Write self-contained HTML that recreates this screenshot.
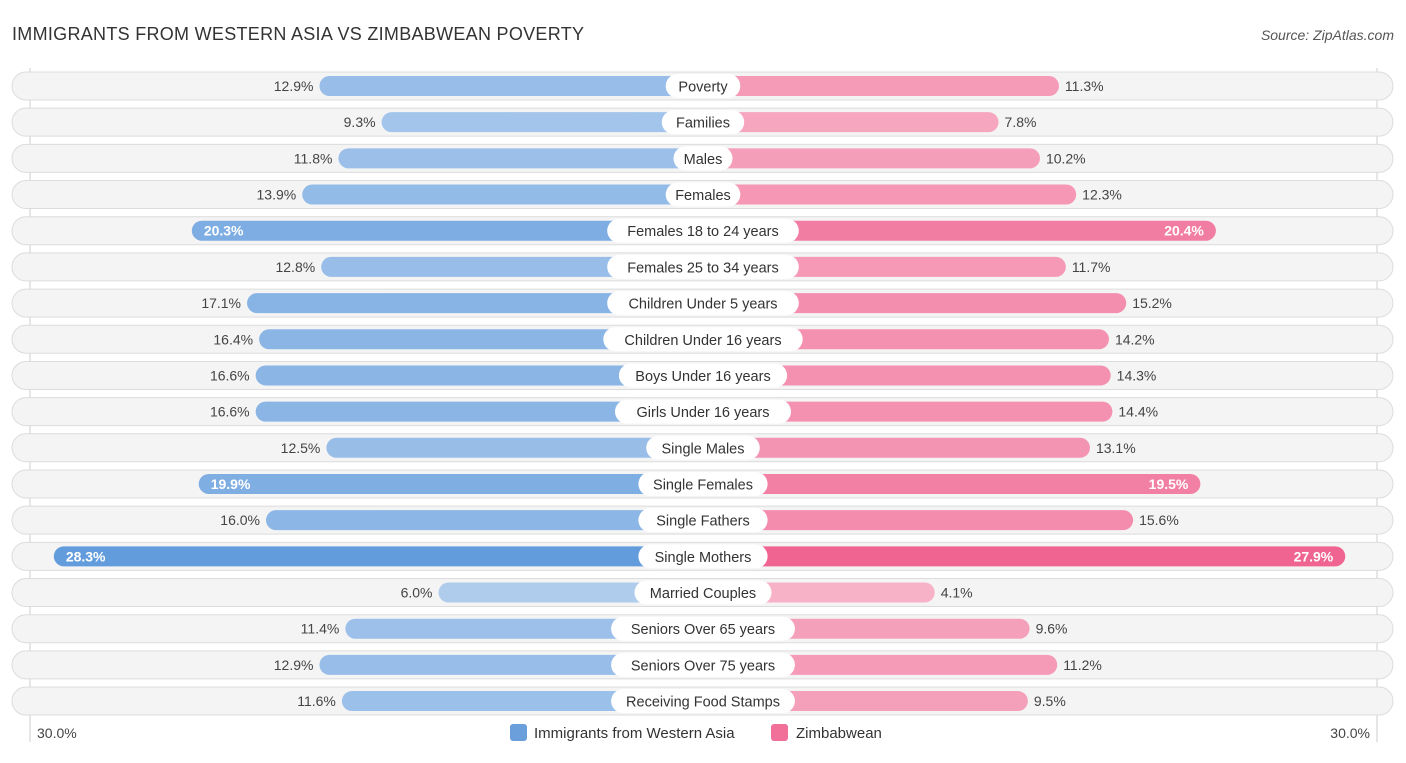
<!DOCTYPE html>
<html><head><meta charset="utf-8"><style>
body{margin:0;background:#fff;width:1406px;height:758px;overflow:hidden;font-family:"Liberation Sans",sans-serif}
svg text{font-family:"Liberation Sans",sans-serif}
</style></head><body>
<svg id="chart" width="1406" height="758" xmlns="http://www.w3.org/2000/svg">
<text x="12" y="40" font-size="18" fill="#333" textLength="572">IMMIGRANTS FROM WESTERN ASIA VS ZIMBABWEAN POVERTY</text>
<text x="1394" y="40" font-size="14" fill="#555" font-style="italic" text-anchor="end">Source: ZipAtlas.com</text>
<line x1="30" y1="68" x2="30" y2="742" stroke="#ccc"/>
<line x1="1377" y1="68" x2="1377" y2="742" stroke="#ccc"/>
<g id="rows"></g>
<text x="37" y="738" font-size="14" fill="#444">30.0%</text>
<text x="1370" y="738" font-size="14" fill="#444" text-anchor="end">30.0%</text>
<g>
<rect x="510" y="724" width="17" height="17" rx="3" fill="#6a9fdc"/>
<text x="534" y="738" font-size="15" fill="#333">Immigrants from Western Asia</text>
<rect x="771" y="724" width="17" height="17" rx="3" fill="#f0709a"/>
<text x="796" y="738" font-size="15" fill="#333">Zimbabwean</text>
</g>
</svg>
<script>
const categories=["Poverty","Families","Males","Females","Females 18 to 24 years","Females 25 to 34 years","Children Under 5 years","Children Under 16 years","Boys Under 16 years","Girls Under 16 years","Single Males","Single Females","Single Fathers","Single Mothers","Married Couples","Seniors Over 65 years","Seniors Over 75 years","Receiving Food Stamps"];
const westernAsia=[12.9,9.3,11.8,13.9,20.3,12.8,17.1,16.4,16.6,16.6,12.5,19.9,16.0,28.3,6.0,11.4,12.9,11.6];
const zimbabwean=[11.3,7.8,10.2,12.3,20.4,11.7,15.2,14.2,14.3,14.4,13.1,19.5,15.6,27.9,4.1,9.6,11.2,9.5];
const NS="http://www.w3.org/2000/svg";
const cx=703;
function len(v){return 161+17.25*v;}
function rowY(i){return 86+i*36.18;}
function mk(tag,attrs,parent){const e=document.createElementNS(NS,tag);for(const k in attrs)e.setAttribute(k,attrs[k]);parent.appendChild(e);return e;}
function mix(a,b,t){return 'rgb('+a.map((x,i)=>Math.round(x+(b[i]-x)*t)).join(',')+')';}
const g=document.getElementById('rows');
categories.forEach((c,i)=>{
  const y=rowY(i);
  const row=mk('g',{},g);
  
  
  const bg=mk('rect',{x:12,y:y-14,width:1381,height:28,rx:14,fill:'#f4f4f4',stroke:'#dcdcdc'},row);
  
  
  const a=westernAsia[i],b=zimbabwean[i];
  const ta=Math.min(1,Math.max(0,(a-5)/23)), tb=Math.min(1,Math.max(0,(b-4)/24));
  const la=len(a), lb=len(b);
  const ba=mk('rect',{x:cx-la,y:y-10,width:la,height:20,rx:10,fill:mix([178,206,238],[99,156,220],ta)},row);
  
  
  const bb=mk('rect',{x:cx,y:y-10,width:lb,height:20,rx:10,fill:mix([247,178,200],[240,100,145],tb)},row);
  
  
  const inA=a>19, inB=b>19;
  const va=mk('text',{x:inA?cx-la+12:cx-la-6,y:y+5,'font-size':14,fill:inA?'#fff':'#444','font-weight':inA?'bold':'normal','text-anchor':inA?'start':'end'},row);
  va.textContent=a.toFixed(1)+'%';
  
  
  const vb=mk('text',{x:inB?cx+lb-12:cx+lb+6,y:y+5,'font-size':14,fill:inB?'#fff':'#444','font-weight':inB?'bold':'normal','text-anchor':inB?'end':'start'},row);
  vb.textContent=b.toFixed(1)+'%';
  
  
  const w=c.length*7.8+20;
  const lp=mk('rect',{x:cx-w/2,y:y-12,width:w,height:24,rx:12,fill:'#fff'},row);
  
  
  const lt=mk('text',{x:cx,y:y+5.5,'font-size':14.5,fill:'#333','text-anchor':'middle'},row);
  lt.textContent=c;
  
  
});
</script>
</body></html>
